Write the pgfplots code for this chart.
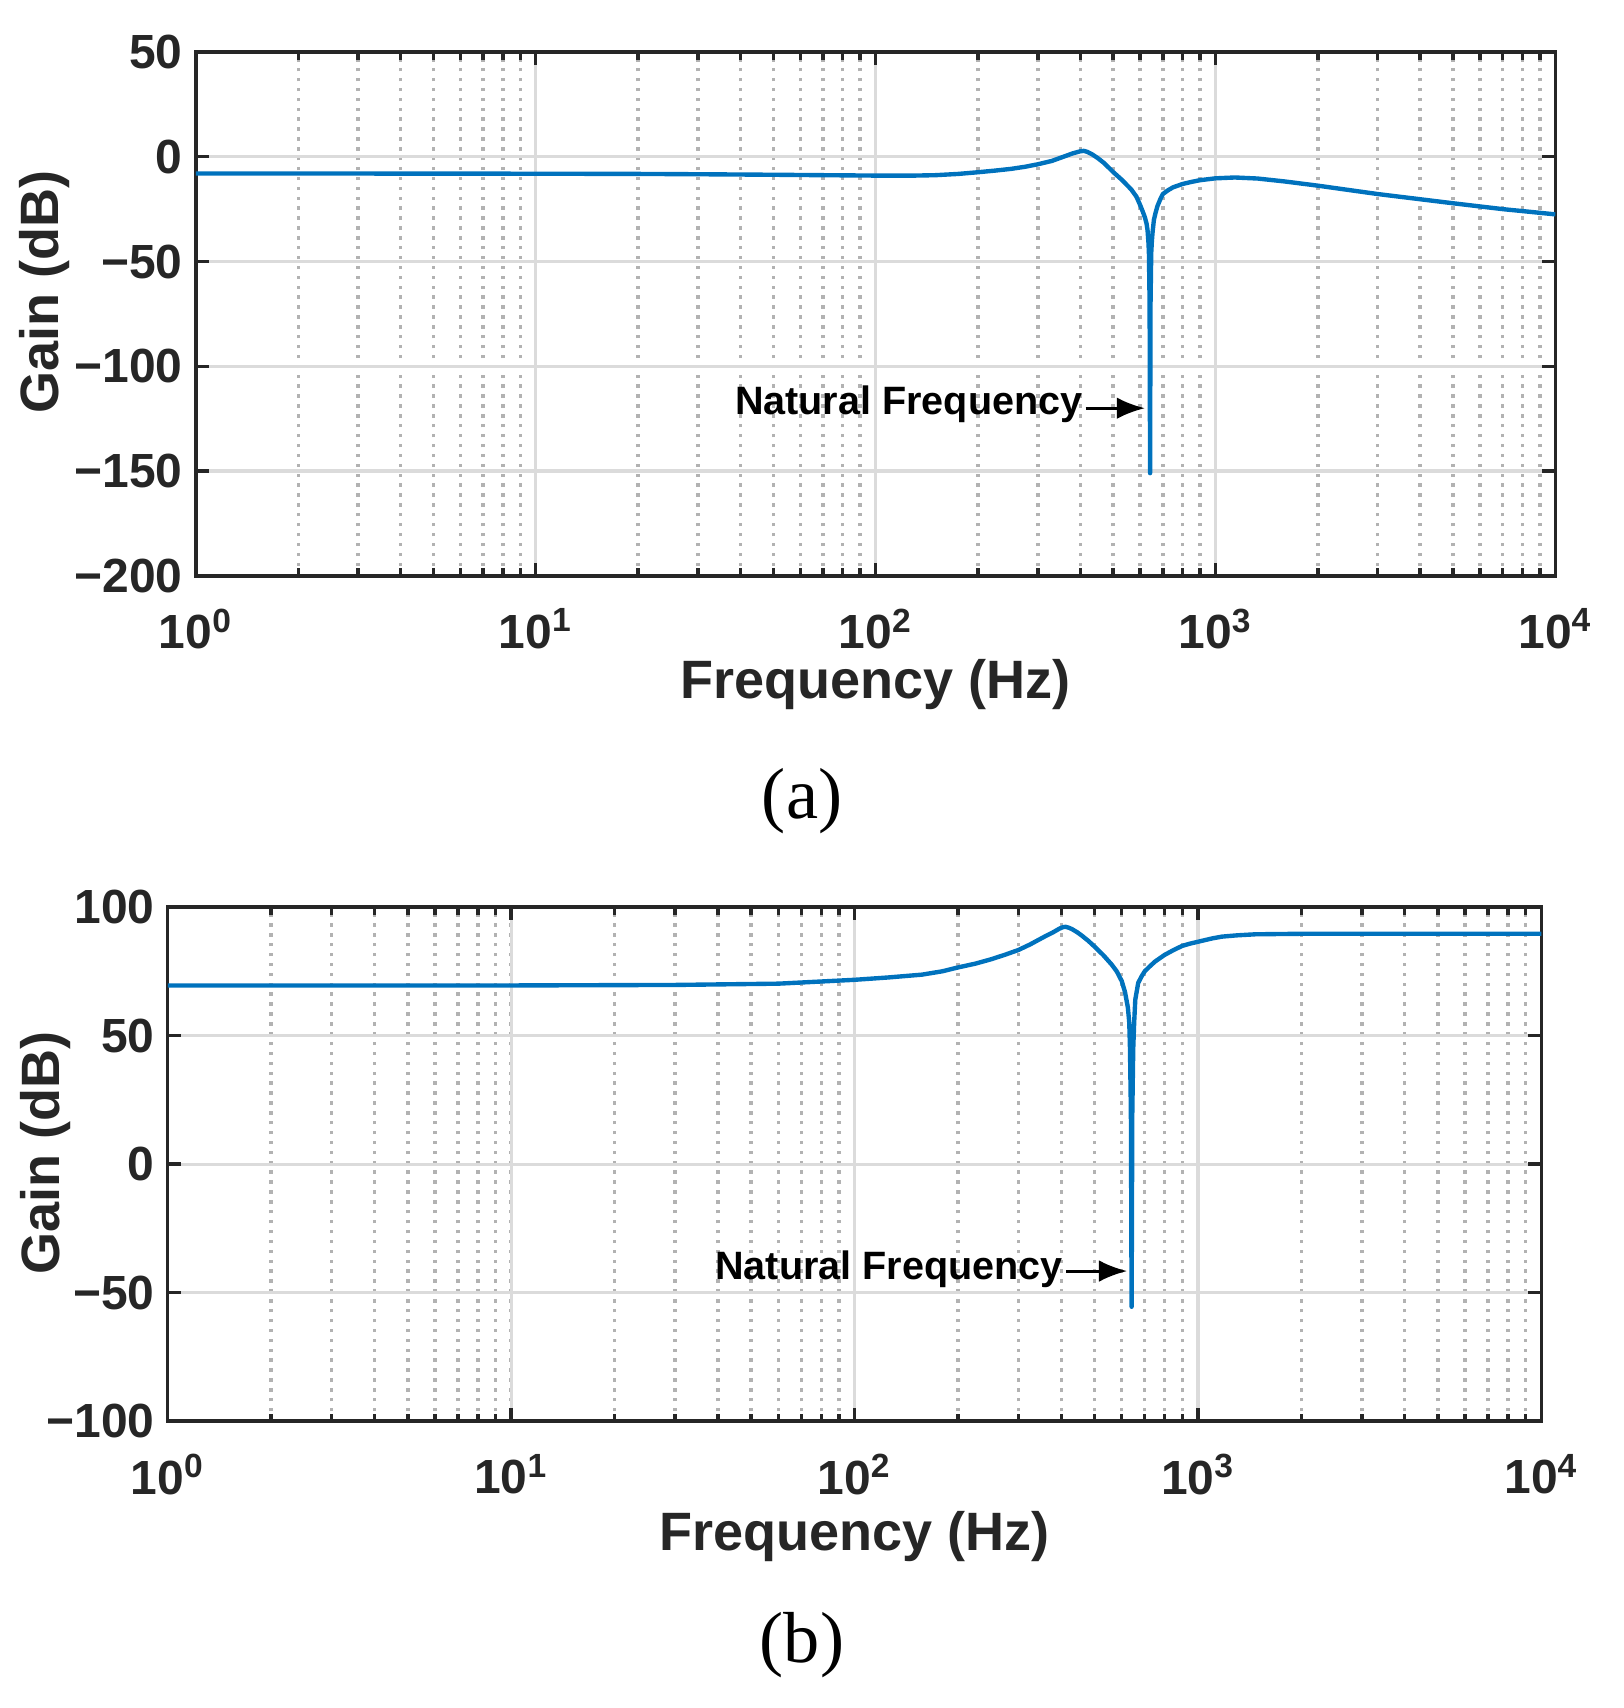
\documentclass[border=0pt]{standalone}
\usepackage{fontspec}
\setmainfont{Liberation Sans}
\newfontfamily\timesfont{Liberation Serif}
\usepackage{pgfplots}
\pgfplotsset{compat=1.18}
\usetikzlibrary{arrows.meta}
\definecolor{mblue}{RGB}{0,114,189}
\definecolor{mdark}{RGB}{38,38,38}

\begin{document}
\begin{tikzpicture}
\useasboundingbox (0cm,0cm) rectangle (15cm,-15.78cm);

% ---------------- (a) ----------------
\begin{axis}[
  scale only axis,
  xmode=log,
  xmin=1, xmax=10000,
  xtick={1,10,100,1000,10000},
  xticklabels={10\textsuperscript{0},10\textsuperscript{1},10\textsuperscript{2},10\textsuperscript{3},10\textsuperscript{4}},
  xtick pos=both, ytick pos=both,
  tick align=inside,
  major tick length=0.12cm,
  minor tick length=0.07cm,
  xmajorgrids, xminorgrids, ymajorgrids,
  major grid style={draw=black!14, line width=0.85pt},
  minor grid style={draw=black!30, line width=0.9pt, dash pattern=on 0.9pt off 1.7pt},
  axis line style={draw=mdark, line width=0.9pt},
  tick style={draw=mdark, line width=0.9pt},
  tick label style={font=\fontsize{12.6}{14}\selectfont\bfseries, text=mdark},
  xticklabel style={yshift=-0.18cm},
  label style={font=\fontsize{14.2}{16}\selectfont\bfseries, text=mdark},
  at={(1.81cm,-0.48cm)}, anchor=north west,
  width=12.56cm, height=4.84cm,
  ymin=-200, ymax=50,
  ytick={-200,-150,-100,-50,0,50},
  yticklabels={−200,−150,−100,−50,0,50},
  xlabel={Frequency (Hz)}, ylabel={Gain (dB)},
  xlabel style={at={(axis description cs:0.5,-0.207)}, anchor=center},
  ylabel style={at={(axis description cs:-0.111,0.541)}, anchor=center},
]
\addplot[mblue, line width=1.15pt, line join=round] coordinates {
(1,-8.0) (2,-8.0) (5,-8.05) (10,-8.1) (20,-8.2) (30,-8.35) (50,-8.6) (70,-8.8)
(100,-9.0) (130,-9.0) (150,-8.8) (175,-8.2) (200,-7.4) (225,-6.6) (250,-5.8)
(275,-4.8) (300,-3.6) (330,-2.0) (357,0) (380,1.6) (400,2.6) (410,2.8)
(420,2.3) (435,1.0) (450,-0.6) (470,-3.0) (500,-7.3) (530,-11.0) (565,-15.6)
(585,-19) (600,-23) (612,-26.5) (620,-29) (627,-32) (631,-35) (635,-41)
(637,-46) (640,-70) (642,-151) (644,-70) (647,-46) (650,-40) (653,-36)
(659,-30) (667,-26.5) (675,-23.5) (688,-20.3) (700,-17.8) (725,-16)
(750,-14.6) (800,-13) (850,-12) (900,-11.2) (1000,-10.3) (1140,-9.9)
(1330,-10.4) (1600,-11.8) (2000,-13.8) (3000,-17.8) (5000,-22.2)
(7000,-25.0) (10000,-27.5)
};
\draw[-{Latex[length=2.6mm,width=2mm]}, line width=0.8pt, black] (axis cs:415,-120) -- (axis cs:620,-120);
\node[anchor=east, inner sep=0pt, font=\fontsize{10.4}{12}\selectfont\bfseries] at (axis cs:408,-118) {Natural Frequency};
\end{axis}
\node[font=\timesfont\fontsize{19}{22}\selectfont] at (7.41cm,-7.40cm) {(a)};

% ---------------- (b) ----------------
\begin{axis}[
  scale only axis,
  xmode=log,
  xmin=1, xmax=10000,
  xtick={1,10,100,1000,10000},
  xticklabels={10\textsuperscript{0},10\textsuperscript{1},10\textsuperscript{2},10\textsuperscript{3},10\textsuperscript{4}},
  xtick pos=both, ytick pos=both,
  tick align=inside,
  major tick length=0.12cm,
  minor tick length=0.07cm,
  xmajorgrids, xminorgrids, ymajorgrids,
  major grid style={draw=black!14, line width=0.85pt},
  minor grid style={draw=black!30, line width=0.9pt, dash pattern=on 0.9pt off 1.7pt},
  axis line style={draw=mdark, line width=0.9pt},
  tick style={draw=mdark, line width=0.9pt},
  tick label style={font=\fontsize{12.6}{14}\selectfont\bfseries, text=mdark},
  xticklabel style={yshift=-0.18cm},
  label style={font=\fontsize{14.2}{16}\selectfont\bfseries, text=mdark},
  at={(1.55cm,-8.38cm)}, anchor=north west,
  width=12.69cm, height=4.75cm,
  ymin=-100, ymax=100,
  ytick={-100,-50,0,50,100},
  yticklabels={−100,−50,0,50,100},
  xlabel={Frequency (Hz)}, ylabel={Gain (dB)},
  xlabel style={at={(axis description cs:0.5,-0.225)}, anchor=center},
  ylabel style={at={(axis description cs:-0.089,0.522)}, anchor=center},
]
\addplot[mblue, line width=1.15pt, line join=round] coordinates {
(1,69.5) (10,69.5) (30,69.7) (60,70.2) (100,71.7) (125,72.6) (157,73.7)
(180,75.0) (200,76.5) (225,78.0) (250,79.7) (275,81.5) (300,83.3) (325,85.5)
(343,87.2) (360,88.7) (380,90.3) (395,91.6) (405,92.2) (412,92.3) (420,92.0)
(430,91.4) (445,90.2) (460,88.8) (480,86.8) (500,84.6) (530,81.3) (561,77.6)
(580,75) (600,71.2) (613,67) (625,61) (631,55) (634,45) (638,20) (641,-55.5)
(644,20) (648,45) (652,55) (657,64) (670,70.5) (685,73) (700,75) (725,77)
(750,78.8) (800,81.4) (850,83.3) (900,84.9) (950,85.8) (1000,86.5)
(1100,87.8) (1175,88.5) (1300,89.0) (1469,89.4) (1700,89.5) (2000,89.6)
(5000,89.6) (10000,89.6)
};
\draw[-{Latex[length=2.6mm,width=2mm]}, line width=0.8pt, black] (axis cs:413,-41.6) -- (axis cs:622,-41.6);
\node[anchor=east, inner sep=0pt, font=\fontsize{10.4}{12}\selectfont\bfseries] at (axis cs:406,-40.8) {Natural Frequency};
\end{axis}
\node[font=\timesfont\fontsize{19}{22}\selectfont] at (7.41cm,-15.20cm) {(b)};
\end{tikzpicture}
\end{document}
